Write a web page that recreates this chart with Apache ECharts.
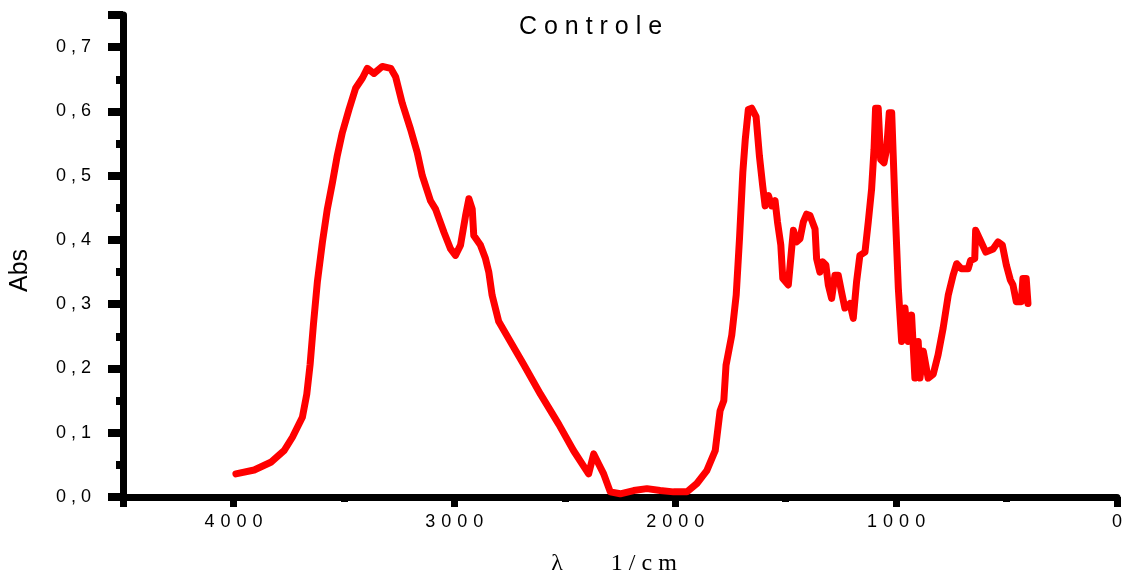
<!DOCTYPE html>
<html>
<head>
<meta charset="utf-8">
<script src="https://cdn.jsdelivr.net/npm/echarts@6/dist/echarts.min.js"></script>
<style>
html,body{margin:0;padding:0;background:#fff;}
#chart{width:1127px;height:581px;}
</style>
</head>
<body>
<div id="chart"></div>
<script>
const titleText = 'C o n t r o l e';
const yAxisName = 'Abs';
const xAxisName = 'λ        1 / c m';

const wavenumber = [
3989,3906,3831,3771,3733,3688,3668,3653,3638,3620,3597,3575,3552,3530,3507,3477,3447,3416,3394,3364,
3326,3288,3266,3236,3198,3168,3145,3108,3085,3047,3017,2995,2972,2949,2934,2919,2912,2882,2859,2844,
2829,2799,2738,2686,2610,2527,2460,2392,2369,2346,2324,2294,2249,2188,2128,2068,2008,1947,1902,1857,
1819,1797,1780,1770,1762,1744,1724,1709,1694,1683,1669,1654,1634,1619,1604,1593,1578,1563,1548,1537,
1522,1513,1488,1473,1465,1450,1435,1420,1405,1390,1367,1360,1345,1333,1318,1307,1292,1277,1262,1247,
1232,1209,1194,1179,1164,1141,1126,1111,1100,1093,1081,1070,1055,1043,1031,1020,1005,990,975,960,
945,930,915,900,892,877,855,832,810,787,764,742,726,704,674,663,644,640,622,594,
561,539,519,501,483,471,456,433,426,411,403
];
const absorbance = [
0.036,0.042,0.054,0.072,0.093,0.124,0.160,0.206,0.268,0.335,0.397,0.448,0.489,0.531,0.567,0.603,0.636,0.652,0.667,0.659,
0.670,0.667,0.654,0.613,0.572,0.536,0.500,0.461,0.448,0.412,0.386,0.376,0.392,0.438,0.464,0.448,0.407,0.392,0.371,0.350,
0.314,0.273,0.237,0.206,0.160,0.113,0.072,0.036,0.067,0.051,0.036,0.008,0.005,0.010,0.013,0.010,0.008,0.008,0.021,0.041,
0.072,0.134,0.150,0.205,0.207,0.252,0.314,0.402,0.505,0.556,0.603,0.605,0.592,0.531,0.484,0.453,0.469,0.453,0.461,0.428,
0.392,0.340,0.330,0.386,0.415,0.397,0.402,0.428,0.440,0.438,0.417,0.371,0.350,0.366,0.361,0.330,0.309,0.345,0.345,0.319,
0.294,0.301,0.278,0.335,0.376,0.381,0.428,0.479,0.541,0.605,0.605,0.525,0.520,0.541,0.598,0.598,0.453,0.325,0.242,0.294,
0.242,0.283,0.185,0.242,0.185,0.227,0.185,0.191,0.221,0.263,0.314,0.345,0.363,0.355,0.355,0.368,0.371,0.415,0.402,0.381,
0.386,0.397,0.392,0.361,0.338,0.330,0.304,0.304,0.340,0.340,0.301
];

const xMin = 0, xMax = 4500, xStep = 1000;
const yMin = 0, yMax = 0.75, yStep = 0.1;

const seriesData = wavenumber.map((w, i) => [w, absorbance[i]]);

function isMultiple(v, step) {
  const r = v / step;
  return Math.abs(r - Math.round(r)) < 1e-6;
}

const chart = echarts.init(document.getElementById('chart'), null, {renderer: 'canvas'});
chart.setOption({
  animation: false,
  backgroundColor: '#ffffff',
  title: {
    text: titleText,
    left: 514,
    top: 10,
    textStyle: {fontFamily: 'Liberation Sans, Arial, sans-serif', fontSize: 25, fontWeight: 'normal', color: '#000'}
  },
  grid: {left: 122, right: 10, top: 15, bottom: 81, containLabel: false},
  xAxis: {
    type: 'value',
    inverse: true,
    min: xMin, max: xMax, interval: xStep,
    name: xAxisName,
    nameLocation: 'middle',
    nameGap: 55,
    nameTextStyle: {fontFamily: 'Liberation Serif, Times New Roman, serif', fontSize: 24, color: '#000', padding: [0, 12, 0, 0]},
    axisLine: {show: true, onZero: false, lineStyle: {color: '#000', width: 7}},
    axisTick: {show: true, inside: false, length: 10, lineStyle: {color: '#000', width: 7}},
    minorTick: {show: true, splitNumber: 2, length: 5, lineStyle: {color: '#000', width: 7}},
    splitLine: {show: false},
    axisLabel: {
      margin: 16,
      fontFamily: 'Liberation Sans, Arial, sans-serif', fontSize: 18, color: '#000',
      formatter: v => isMultiple(v, xStep) ? String(v).split('').join('\u2004') : ''
    }
  },
  yAxis: {
    type: 'value',
    min: yMin, max: yMax, interval: yStep,
    name: yAxisName,
    nameLocation: 'middle',
    nameGap: 90,
    nameTextStyle: {fontFamily: 'Liberation Sans, Arial, sans-serif', fontSize: 25, color: '#000', padding: [0, 29, 0, 0]},
    axisLine: {show: true, onZero: false, lineStyle: {color: '#000', width: 7}},
    axisTick: {show: true, inside: false, length: 15, lineStyle: {color: '#000', width: 8}},
    minorTick: {show: true, splitNumber: 2, length: 7, lineStyle: {color: '#000', width: 8}},
    splitLine: {show: false},
    axisLabel: {
      margin: 32,
      fontFamily: 'Liberation Sans, Arial, sans-serif', fontSize: 18, color: '#000',
      formatter: v => isMultiple(v, yStep) ? v.toFixed(1).replace('.', ' , ') : ''
    }
  },
  series: [{
    type: 'line',
    data: seriesData,
    showSymbol: false,
    smooth: false,
    lineStyle: {color: '#ff0000', width: 7, join: 'round', cap: 'round'},
    itemStyle: {color: '#ff0000'}
  }]
});
</script>
</body>
</html>
